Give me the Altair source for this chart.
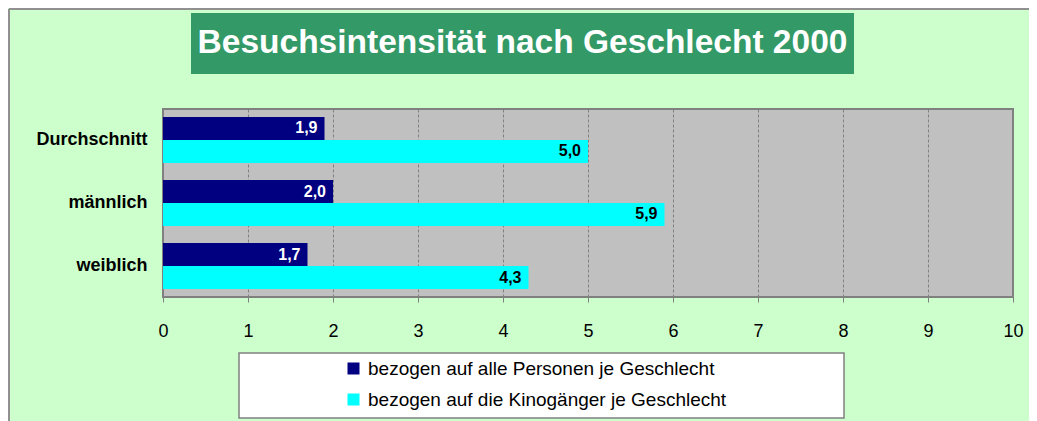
import altair as alt
import pandas as pd

categories = ["Durchschnitt", "männlich", "weiblich"]
series_names = [
    "bezogen auf alle Personen je Geschlecht",
    "bezogen auf die Kinogänger je Geschlecht",
]
alle_personen = [1.9, 2.0, 1.7]
kinogaenger = [5.0, 5.9, 4.3]
x_ticks = list(range(0, 11))
title_text = "Besuchsintensität nach Geschlecht 2000"

rows = []
for c, v in zip(categories, alle_personen):
    rows.append({"category": c, "series": series_names[0], "value": v})
for c, v in zip(categories, kinogaenger):
    rows.append({"category": c, "series": series_names[1], "value": v})
df = pd.DataFrame(rows)

FONT = "Liberation Sans"
one = pd.DataFrame({"k": [0]})

y_enc = alt.Y("category:N", sort=categories, title=None,
              scale=alt.Scale(paddingInner=0.27, paddingOuter=0.127),
              axis=alt.Axis(labelFontSize=18, labelFontWeight="bold", labelFont=FONT,
                            labelColor="black", ticks=False, labelPadding=16,
                            domain=False, grid=False))
yoff = alt.YOffset("series:N", sort=series_names,
                   scale=alt.Scale(paddingInner=0, paddingOuter=0))
x_enc = alt.X("value:Q", title=None,
              scale=alt.Scale(domain=[0, 10], nice=False, zero=True),
              axis=alt.Axis(values=x_ticks, labelFontSize=18, labelFont=FONT,
                            labelColor="black", tickSize=5, tickColor="#808080",
                            labelPadding=20, domain=False, grid=True,
                            gridColor="#808080", gridDash=[3, 2], gridWidth=1,
                            labelFlush=False, format="d"))

bars = alt.Chart(df).mark_bar().encode(
    x=x_enc,
    y=y_enc,
    yOffset=yoff,
    color=alt.Color("series:N", sort=series_names,
                    scale=alt.Scale(domain=series_names, range=["#000080", "#00FFFF"]),
                    legend=alt.Legend(orient="none", legendX=181, legendY=250, title=None,
                                      symbolType="square", symbolSize=144,
                                      symbolStrokeWidth=0, labelFontSize=19,
                                      labelFont=FONT, labelColor="black",
                                      rowPadding=11, labelOffset=5, labelLimit=600)),
)

labels = alt.Chart(df).transform_calculate(
    label="replace(format(datum.value, '.1f'), '.', ',')"
).mark_text(align="right", baseline="middle", dx=-7, fontSize=16,
            fontWeight="bold", font=FONT).encode(
    x=alt.X("value:Q"),
    y=alt.Y("category:N", sort=categories),
    yOffset=yoff,
    text="label:N",
    color=alt.condition(alt.datum.series == series_names[0],
                        alt.value("white"), alt.value("black")),
)

title_box = alt.Chart(one).mark_rect(color="#339966").encode(
    x=alt.value(28), x2=alt.value(691), y=alt.value(-96), y2=alt.value(-35))
title = alt.Chart(one).mark_text(align="center", baseline="alphabetic", fontSize=33.5,
                                 fontWeight="bold", font=FONT, color="white").encode(
    x=alt.value(359.5), y=alt.value(-56), text=alt.value(title_text))
legend_box = alt.Chart(one).mark_rect(fill="white", stroke="#808080", strokeWidth=1.5).encode(
    x=alt.value(76), x2=alt.value(681), y=alt.value(244), y2=alt.value(309))
border_top = alt.Chart(one).mark_rule(color="#909090", strokeWidth=2).encode(
    x=alt.value(-154), x2=alt.value(900), y=alt.value(-100))
border_left = alt.Chart(one).mark_rule(color="#909090", strokeWidth=2).encode(
    x=alt.value(-154), y=alt.value(-100), y2=alt.value(330))

chart = alt.layer(
    border_top, border_left, title_box, title, legend_box, bars, labels
).properties(
    width=850, height=188,
    autosize=alt.AutoSizeParams(type="none"),
    padding={"left": 155, "top": 101, "right": 16, "bottom": 124},
    background="#CCFFCC",
).configure_view(
    fill="#C0C0C0", stroke="#808080", strokeWidth=2
).configure_text(font=FONT)

chart.save("out.html", embed_options={"renderer": "svg", "actions": False})
